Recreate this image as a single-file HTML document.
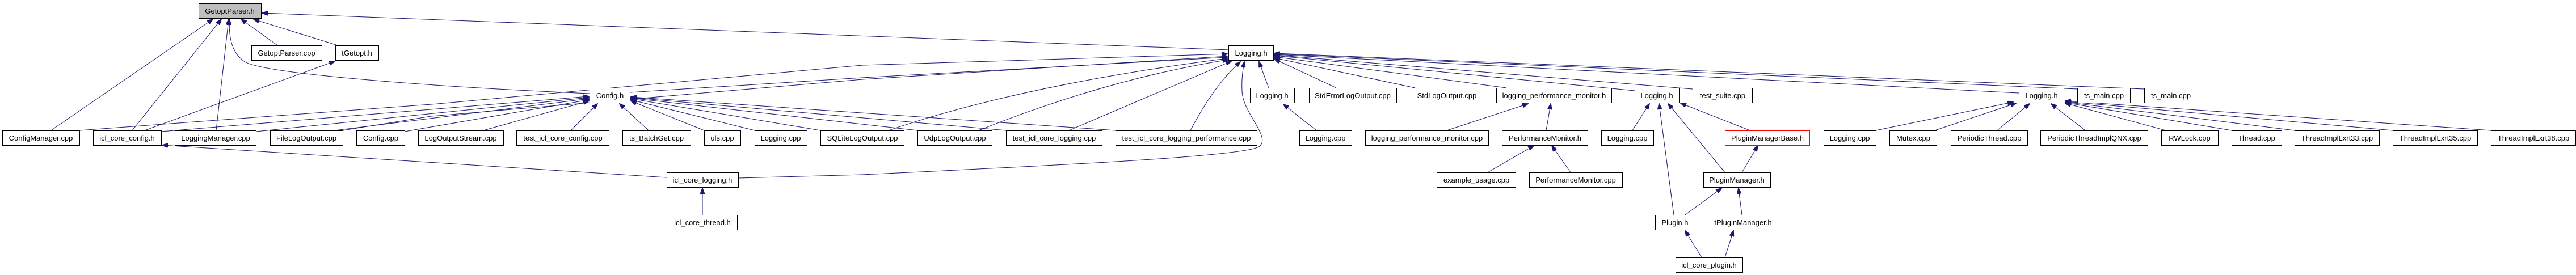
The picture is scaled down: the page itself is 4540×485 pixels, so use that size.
<!DOCTYPE html>
<html><head><meta charset="utf-8"><style>
html,body{margin:0;padding:0;background:#fff;}
svg{display:block;}
text{font-family:"Liberation Sans",Helvetica,sans-serif;font-size:13px;fill:#000;text-anchor:middle;}
.n{fill:#fff;stroke:#000;stroke-width:1;}
.e{fill:none;stroke:#191970;stroke-width:1;marker-end:url(#a);}
</style></head><body>
<svg width="4540" height="485" viewBox="0 0 4540 485" xmlns="http://www.w3.org/2000/svg">
<defs><marker id="a" markerUnits="userSpaceOnUse" markerWidth="11" markerHeight="8" refX="10" refY="4" orient="auto"><path d="M0,0 L11,4 L0,8 z" fill="#191970" stroke="#191970"/></marker></defs>
<g>
<!-- GetoptParser.h edges -->
<path class="e" d="M90,230 L375,34"/>
<path class="e" d="M233,230 L390,34"/>
<path class="e" d="M381,230 L403,34"/>
<path class="e" d="M489,80 L425,34"/>
<path class="e" d="M595,80 L447,34"/>
<path class="e" d="M2165,88 L462,23"/>
<path class="e" d="M1039,165 C760,153 460,130 430,108 C405,90 404,60 404,34"/>
<path class="e" d="M255,230 L590,108"/>
<path class="e" d="M1175,313 L286,256"/>
<path class="e" d="M1238,379 L1238,332"/>
<!-- Config.h edges -->
<path class="e" d="M284,232 L1038,170"/>
<path class="e" d="M451,232 L1038,172"/>
<path class="e" d="M590,230 L1038,174"/>
<path class="e" d="M713,232 L1038,176"/>
<path class="e" d="M852,230 L1038,178"/>
<path class="e" d="M1006,230 L1053,183"/>
<path class="e" d="M1143,230 L1092,183"/>
<path class="e" d="M1241,230 L1112,178"/>
<path class="e" d="M1330,230 L1112,176"/>
<path class="e" d="M1446,230 L1112,174"/>
<path class="e" d="M1617,230 L1112,173"/>
<path class="e" d="M1773,230 L1112,172"/>
<path class="e" d="M1966,230 L1112,171"/>
<!-- Logging.h main edges -->
<path class="e" d="M140,230 L760,184 L1520,115 L2163,95"/>
<path class="e" d="M604,230 L760,205 L1520,140 L2163,99"/>
<path class="e" d="M1110,163 L1520,137 L2163,101"/>
<path class="e" d="M1566,230 Q1800,150 2163,103"/>
<path class="e" d="M1725,230 Q1950,140 2165,105"/>
<path class="e" d="M1884,230 L2170,108"/>
<path class="e" d="M2098,230 Q2140,150 2186,109"/>
<path class="e" d="M1301,314 L1520,308 C1900,290 2200,275 2220,258 C2240,240 2190,200 2189,160 C2188,140 2190,125 2193,109"/>
<path class="e" d="M2236,155 L2219,109"/>
<path class="e" d="M2355,155 L2246,104"/>
<path class="e" d="M2494,155 L2246,102"/>
<path class="e" d="M2655,155 L2246,100"/>
<path class="e" d="M2881,160 L2246,98"/>
<path class="e" d="M2983,157 L2246,97"/>
<path class="e" d="M3558,164 L2246,96"/>
<path class="e" d="M3662,157 L2246,95"/>
<path class="e" d="M3779,157 L2246,94"/>
<!-- other -->
<path class="e" d="M2320,230 L2262,184"/>
<path class="e" d="M2550,230 L2693,183"/>
<path class="e" d="M2725,230 L2733,183"/>
<path class="e" d="M2622,304 L2703,257"/>
<path class="e" d="M2768,304 L2735,257"/>
<path class="e" d="M2877,230 L2907,183"/>
<path class="e" d="M2950,379 L2924,183"/>
<path class="e" d="M3040,304 L2940,183"/>
<path class="e" d="M3084,230 L2962,182"/>
<path class="e" d="M3070,304 L3098,257"/>
<path class="e" d="M2970,379 L3034,332"/>
<path class="e" d="M3070,379 L3064,332"/>
<path class="e" d="M3040,454 L3055,407"/>
<path class="e" d="M2999,454 L2970,407"/>
<path class="e" d="M3306,230 L3548,180"/>
<path class="e" d="M3410,230 L3553,182"/>
<path class="e" d="M3520,230 L3577,183"/>
<path class="e" d="M3675,230 L3615,183"/>
<path class="e" d="M3817,230 L3640,182"/>
<path class="e" d="M3933,230 L3640,181"/>
<path class="e" d="M4044,230 L3640,180"/>
<path class="e" d="M4217,230 L3640,179"/>
<path class="e" d="M4390,230 L3640,178"/>
</g>
<g>
<rect x="350.5" y="6.5" width="110" height="26" fill="#bfbfbf" stroke="#000"/><text x="405" y="24">GetoptParser.h</text>
<rect class="n" x="443.5" y="80.5" width="124" height="26"/><text x="505" y="98">GetoptParser.cpp</text>
<rect class="n" x="591.5" y="80.5" width="76" height="26"/><text x="629" y="98">tGetopt.h</text>
<rect class="n" x="2165.5" y="80.5" width="79" height="26"/><text x="2205" y="98">Logging.h</text>

<rect class="n" x="1039.5" y="155.5" width="71" height="26"/><text x="1075" y="173">Config.h</text>
<rect class="n" x="2203.5" y="155.5" width="78" height="26"/><text x="2242" y="173">Logging.h</text>
<rect class="n" x="2307.5" y="155.5" width="154" height="26"/><text x="2384" y="173">StdErrorLogOutput.cpp</text>
<rect class="n" x="2486.5" y="155.5" width="127" height="26"/><text x="2550" y="173">StdLogOutput.cpp</text>
<rect class="n" x="2637.5" y="155.5" width="203" height="26"/><text x="2739" y="173">logging_performance_monitor.h</text>
<rect class="n" x="2881.5" y="155.5" width="78" height="26"/><text x="2920" y="173">Logging.h</text>
<rect class="n" x="2983.5" y="155.5" width="105" height="26"/><text x="3036" y="173">test_suite.cpp</text>
<rect class="n" x="3558.5" y="155.5" width="79" height="26"/><text x="3598" y="173">Logging.h</text>
<rect class="n" x="3661.5" y="155.5" width="93" height="26"/><text x="3708" y="173">ts_main.cpp</text>
<rect class="n" x="3779.5" y="155.5" width="94" height="26"/><text x="3826" y="173">ts_main.cpp</text>

<rect class="n" x="4.5" y="230.5" width="136" height="26"/><text x="72" y="248">ConfigManager.cpp</text>
<rect class="n" x="164.5" y="230.5" width="120" height="26"/><text x="224" y="248">icl_core_config.h</text>
<rect class="n" x="308.5" y="230.5" width="143" height="26"/><text x="380" y="248">LoggingManager.cpp</text>
<rect class="n" x="476.5" y="230.5" width="128" height="26"/><text x="540" y="248">FileLogOutput.cpp</text>
<rect class="n" x="628.5" y="230.5" width="85" height="26"/><text x="671" y="248">Config.cpp</text>
<rect class="n" x="737.5" y="230.5" width="150" height="26"/><text x="812" y="248">LogOutputStream.cpp</text>
<rect class="n" x="910.5" y="230.5" width="163" height="26"/><text x="992" y="248">test_icl_core_config.cpp</text>
<rect class="n" x="1097.5" y="230.5" width="120" height="26"/><text x="1157" y="248">ts_BatchGet.cpp</text>
<rect class="n" x="1241.5" y="230.5" width="64" height="26"/><text x="1273" y="248">uls.cpp</text>
<rect class="n" x="1330.5" y="230.5" width="92" height="26"/><text x="1376" y="248">Logging.cpp</text>
<rect class="n" x="1446.5" y="230.5" width="147" height="26"/><text x="1520" y="248">SQLiteLogOutput.cpp</text>
<rect class="n" x="1617.5" y="230.5" width="131" height="26"/><text x="1683" y="248">UdpLogOutput.cpp</text>
<rect class="n" x="1773.5" y="230.5" width="169" height="26"/><text x="1858" y="248">test_icl_core_logging.cpp</text>
<rect class="n" x="1966.5" y="230.5" width="249" height="26"/><text x="2091" y="248">test_icl_core_logging_performance.cpp</text>
<rect class="n" x="2290.5" y="230.5" width="92" height="26"/><text x="2336" y="248">Logging.cpp</text>
<rect class="n" x="2406.5" y="230.5" width="217" height="26"/><text x="2515" y="248">logging_performance_monitor.cpp</text>
<rect class="n" x="2647.5" y="230.5" width="151" height="26"/><text x="2723" y="248">PerformanceMonitor.h</text>
<rect class="n" x="2822.5" y="230.5" width="92" height="26"/><text x="2868" y="248">Logging.cpp</text>
<rect x="3040.5" y="230.5" width="149" height="26" fill="#fff" stroke="#ff0000"/><text x="3115" y="248">PluginManagerBase.h</text>
<rect class="n" x="3214.5" y="230.5" width="92" height="26"/><text x="3260" y="248">Logging.cpp</text>
<rect class="n" x="3330.5" y="230.5" width="83" height="26"/><text x="3372" y="248">Mutex.cpp</text>
<rect class="n" x="3438.5" y="230.5" width="135" height="26"/><text x="3506" y="248">PeriodicThread.cpp</text>
<rect class="n" x="3596.5" y="230.5" width="189" height="26"/><text x="3691" y="248">PeriodicThreadImplQNX.cpp</text>
<rect class="n" x="3809.5" y="230.5" width="100" height="26"/><text x="3859" y="248">RWLock.cpp</text>
<rect class="n" x="3933.5" y="230.5" width="88" height="26"/><text x="3977" y="248">Thread.cpp</text>
<rect class="n" x="4044.5" y="230.5" width="149" height="26"/><text x="4119" y="248">ThreadImplLxrt33.cpp</text>
<rect class="n" x="4217.5" y="230.5" width="149" height="26"/><text x="4292" y="248">ThreadImplLxrt35.cpp</text>
<rect class="n" x="4390.5" y="230.5" width="149" height="26"/><text x="4465" y="248">ThreadImplLxrt38.cpp</text>

<rect class="n" x="1175.5" y="304.5" width="126" height="26"/><text x="1238" y="322">icl_core_logging.h</text>
<rect class="n" x="2532.5" y="304.5" width="139" height="26"/><text x="2602" y="322">example_usage.cpp</text>
<rect class="n" x="2695.5" y="304.5" width="164" height="26"/><text x="2777" y="322">PerformanceMonitor.cpp</text>
<rect class="n" x="3002.5" y="304.5" width="118" height="26"/><text x="3061" y="322">PluginManager.h</text>

<rect class="n" x="1177.5" y="379.5" width="122" height="26"/><text x="1238" y="397">icl_core_thread.h</text>
<rect class="n" x="2917.5" y="379.5" width="70" height="26"/><text x="2952" y="397">Plugin.h</text>
<rect class="n" x="3010.5" y="379.5" width="123" height="26"/><text x="3072" y="397">tPluginManager.h</text>

<rect class="n" x="2953.5" y="454.5" width="118" height="26"/><text x="3012" y="472">icl_core_plugin.h</text>
</g>
</svg>
</body></html>
